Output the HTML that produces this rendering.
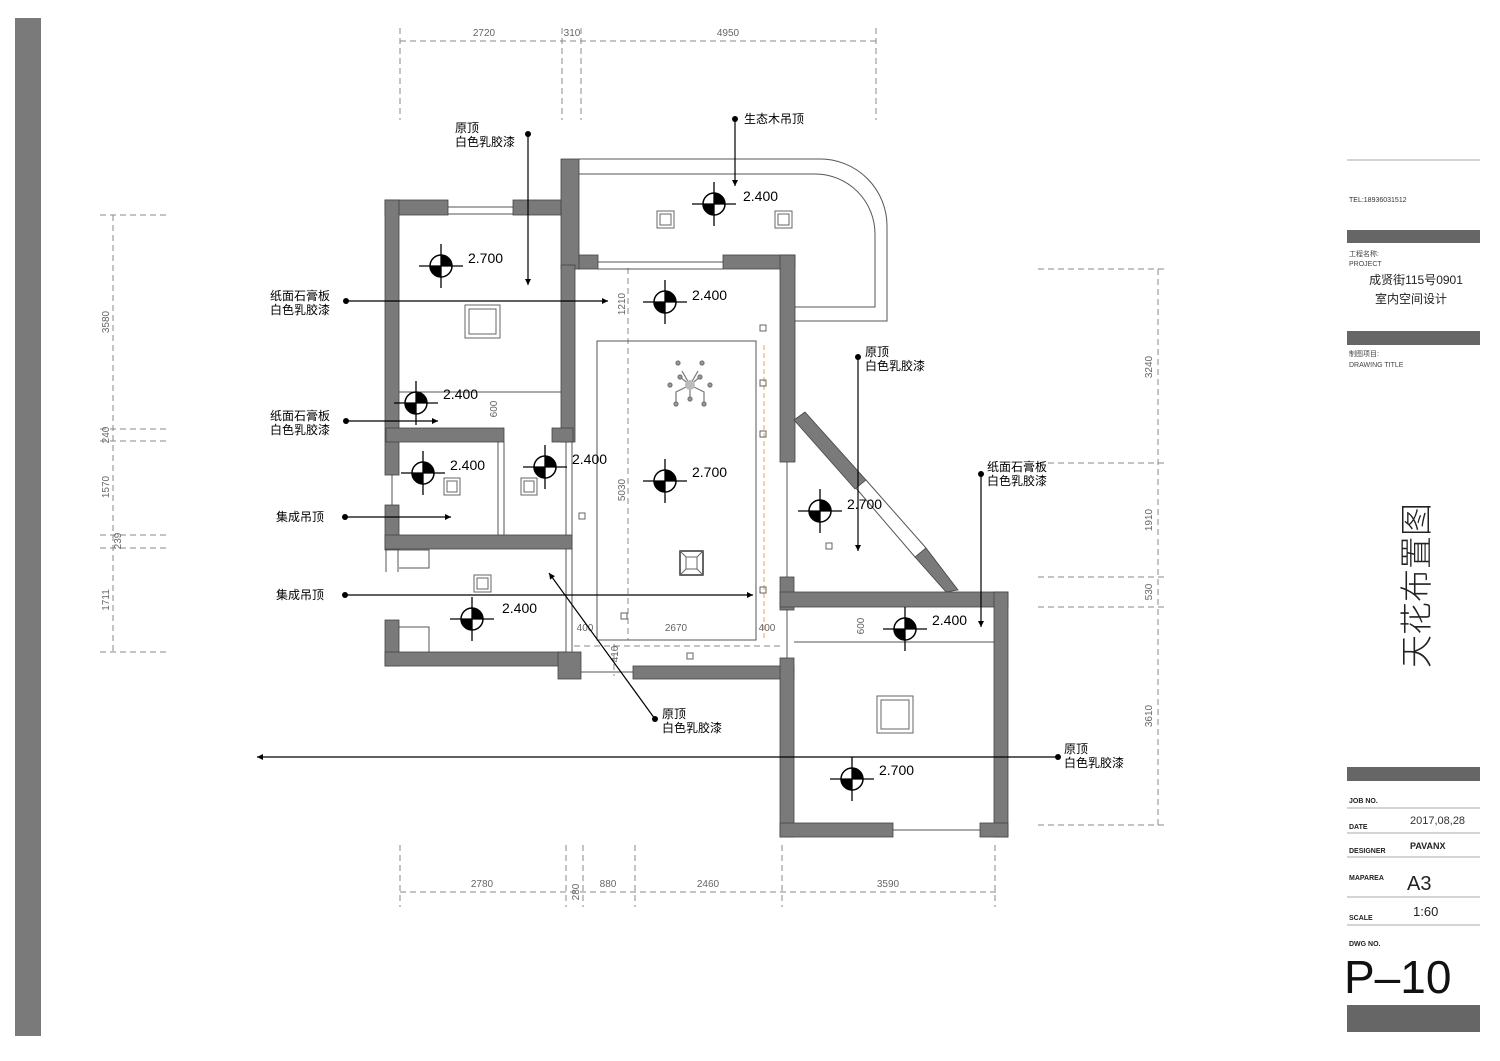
<!DOCTYPE html>
<html><head><meta charset="utf-8"><style>
html,body{margin:0;padding:0;background:#fff}
svg{display:block}
text{font-family:"Liberation Sans","Noto Sans CJK SC",sans-serif}
</style></head><body>
<svg width="1500" height="1061" viewBox="0 0 1500 1061" xmlns="http://www.w3.org/2000/svg">
<defs>
<marker id="ar" viewBox="0 0 10 10" refX="10" refY="5" markerWidth="12" markerHeight="6" orient="auto" markerUnits="userSpaceOnUse"><path d="M0,0 L10,5 L0,10 z" fill="#000"/></marker>
<g id="sym">
<circle r="11" fill="#fff" stroke="#000" stroke-width="1.5"/>
<path d="M0,0 L0,-11 A11,11 0 0 1 11,0 z" fill="#000"/>
<path d="M0,0 L0,11 A11,11 0 0 1 -11,0 z" fill="#000"/>
<line x1="-22" y1="0" x2="22" y2="0" stroke="#000" stroke-width="1.3"/>
<line x1="0" y1="-22" x2="0" y2="22" stroke="#000" stroke-width="1.3"/>
</g>
</defs>
<rect x="15" y="18" width="26" height="1018" fill="#7a7a7a"/>

<g stroke="#888" stroke-width="1" stroke-dasharray="6,4" fill="none">
<line x1="400" y1="41" x2="880" y2="41"/>
<line x1="400" y1="28" x2="400" y2="120"/><line x1="562" y1="28" x2="562" y2="120"/><line x1="581" y1="28" x2="581" y2="120"/><line x1="876" y1="28" x2="876" y2="120"/>
<line x1="400" y1="892" x2="998" y2="892"/>
<line x1="400" y1="845" x2="400" y2="907"/><line x1="566" y1="845" x2="566" y2="907"/><line x1="583" y1="845" x2="583" y2="907"/><line x1="635" y1="845" x2="635" y2="907"/><line x1="782" y1="845" x2="782" y2="907"/><line x1="995" y1="845" x2="995" y2="907"/>
<line x1="113" y1="215" x2="113" y2="652"/>
<line x1="100" y1="215" x2="168" y2="215"/><line x1="100" y1="429" x2="168" y2="429"/><line x1="100" y1="441" x2="168" y2="441"/><line x1="100" y1="535" x2="168" y2="535"/><line x1="100" y1="548" x2="168" y2="548"/><line x1="100" y1="652" x2="168" y2="652"/>
<line x1="1158" y1="269" x2="1158" y2="825"/>
<line x1="1038" y1="269" x2="1168" y2="269"/><line x1="1038" y1="463" x2="1168" y2="463"/><line x1="1038" y1="577" x2="1168" y2="577"/><line x1="1038" y1="607" x2="1168" y2="607"/><line x1="1038" y1="825" x2="1168" y2="825"/>
<line x1="628" y1="268" x2="628" y2="640"/>
<line x1="574" y1="646" x2="782" y2="646"/>
<line x1="614" y1="644" x2="614" y2="676"/>
</g>
<g font-size="10" fill="#666" text-anchor="middle">
<text x="484" y="36">2720</text><text x="572" y="36">310</text><text x="728" y="36">4950</text>
<text x="482" y="887">2780</text><text x="608" y="887">880</text><text x="708" y="887">2460</text><text x="888" y="887">3590</text>
<text transform="translate(579,892) rotate(-90)">280</text>
<text transform="translate(109,322) rotate(-90)">3580</text>
<text transform="translate(109,435) rotate(-90)">240</text>
<text transform="translate(109,487) rotate(-90)">1570</text>
<text transform="translate(121,541) rotate(-90)">239</text>
<text transform="translate(109,600) rotate(-90)">1711</text>
<text transform="translate(1152,367) rotate(-90)">3240</text>
<text transform="translate(1152,520) rotate(-90)">1910</text>
<text transform="translate(1152,592) rotate(-90)">530</text>
<text transform="translate(1152,716) rotate(-90)">3610</text>
<text transform="translate(625,304) rotate(-90)">1210</text>
<text transform="translate(625,490) rotate(-90)">5030</text>
<text transform="translate(497,409) rotate(-90)">600</text>
<text transform="translate(864,626) rotate(-90)">600</text>
<text transform="translate(618,654) rotate(-90)">410</text>
<text x="585" y="631">400</text><text x="676" y="631">2670</text><text x="767" y="631">400</text>
</g>

<g stroke="#555" stroke-width="1" fill="none">
<path d="M579,159 H820 A67,67 0 0 1 887,226 V321 H795"/>
<path d="M579,174 H815 A60,60 0 0 1 875,234 V307 H795"/>
<line x1="448" y1="207" x2="514" y2="207"/><line x1="448" y1="214" x2="514" y2="214"/>
<line x1="598" y1="262" x2="723" y2="262"/><line x1="598" y1="269" x2="723" y2="269"/>
<rect x="597" y="341" width="159" height="299"/>
<line x1="399" y1="392" x2="561" y2="392"/>
<line x1="392" y1="475" x2="392" y2="505"/><line x1="386" y1="550" x2="386" y2="572"/><line x1="398" y1="550" x2="398" y2="572"/>
<line x1="498" y1="442" x2="498" y2="535"/><line x1="504" y1="442" x2="504" y2="535"/>
<line x1="566" y1="442" x2="566" y2="666"/><line x1="572" y1="442" x2="572" y2="666"/>
<line x1="787" y1="462" x2="787" y2="577"/><line x1="787" y1="610" x2="787" y2="658"/>
<line x1="794" y1="642" x2="994" y2="642"/>
<line x1="581" y1="672" x2="633" y2="672"/>
<line x1="893" y1="830" x2="980" y2="830"/>
<path d="M399,550 h30 v18 h-30"/><path d="M399,627 h30 v25"/>
<line x1="855" y1="487" x2="915" y2="557"/>
</g>
<line x1="764" y1="345" x2="764" y2="640" stroke="#f0a040" stroke-width="1" stroke-dasharray="5,3"/>

<g fill="#7a7a7a" stroke="#444" stroke-width="0.8">
<rect x="561" y="159" width="18" height="110"/>
<rect x="579" y="255" width="19" height="14"/>
<rect x="723" y="255" width="72" height="14"/>
<rect x="780" y="255" width="15" height="207"/>
<rect x="385" y="200" width="63" height="15"/>
<rect x="513" y="200" width="48" height="15"/>
<rect x="385" y="200" width="14" height="275"/>
<rect x="561" y="265" width="14" height="177"/>
<rect x="386" y="428" width="118" height="14"/>
<rect x="552" y="428" width="21" height="14"/>
<rect x="385" y="505" width="14" height="45"/>
<rect x="385" y="535" width="187" height="14"/>
<rect x="385" y="620" width="14" height="46"/>
<rect x="385" y="652" width="181" height="14"/>
<rect x="558" y="652" width="23" height="27"/>
<rect x="633" y="666" width="161" height="13"/>
<rect x="780" y="577" width="14" height="33"/>
<rect x="780" y="592" width="228" height="15"/>
<rect x="780" y="658" width="14" height="179"/>
<rect x="994" y="592" width="14" height="245"/>
<rect x="780" y="823" width="113" height="14"/>
<rect x="980" y="823" width="28" height="14"/>
<polygon points="794,420 805,412 866,480 855,489"/>
<polygon points="915,557 926,548 958,590 946,592"/>
</g>
<g stroke="#555" stroke-width="1"><line x1="866" y1="480" x2="926" y2="548"/></g>

<g fill="none" stroke="#666" stroke-width="1">
<rect x="657" y="211" width="17" height="17"/><rect x="660" y="214" width="11" height="11"/>
<rect x="775" y="211" width="17" height="17"/><rect x="778" y="214" width="11" height="11"/>
<rect x="465" y="305" width="35" height="33"/><rect x="469" y="309" width="27" height="25"/>
<rect x="444" y="478" width="16" height="17"/><rect x="447" y="481" width="10" height="11"/>
<rect x="521" y="478" width="16" height="17"/><rect x="524" y="481" width="10" height="11"/>
<rect x="474" y="575" width="17" height="17"/><rect x="477" y="578" width="11" height="11"/>
<rect x="877" y="696" width="36" height="37"/><rect x="881" y="700" width="28" height="29"/>
<rect x="680" y="551" width="23" height="24" stroke="#333" stroke-width="1.5"/><rect x="686" y="557" width="11" height="12"/>
<path d="M680,551 L686,557 M703,551 L697,557 M680,575 L686,569 M703,575 L697,569"/>
<rect x="760" y="325" width="6" height="6"/><rect x="760" y="380" width="6" height="6"/><rect x="760" y="431" width="6" height="6"/><rect x="760" y="587" width="6" height="6"/>
<rect x="579" y="513" width="6" height="6"/><rect x="621" y="613" width="6" height="6"/><rect x="687" y="653" width="6" height="6"/><rect x="826" y="543" width="6" height="6"/>
</g>
<g stroke="#777" stroke-width="1.2" fill="#999">
<path d="M690,385 L682,371 M690,385 L698,371 M690,385 L676,392 L676,404 M690,385 L704,392 L704,404 M690,385 L690,397 M690,385 L680,377 M690,385 L700,377" fill="none"/>
<circle cx="690" cy="385" r="5" fill="#bbb" stroke="none"/>
<circle cx="678" cy="363" r="2"/><circle cx="702" cy="363" r="2"/><circle cx="670" cy="385" r="2"/><circle cx="710" cy="385" r="2"/><circle cx="676" cy="404" r="2"/><circle cx="704" cy="404" r="2"/><circle cx="690" cy="399" r="2"/><circle cx="680" cy="377" r="2"/><circle cx="700" cy="377" r="2"/>
</g>

<use href="#sym" x="441" y="266"/><use href="#sym" x="714" y="204"/><use href="#sym" x="665" y="302"/>
<use href="#sym" x="416" y="403"/><use href="#sym" x="423" y="473"/><use href="#sym" x="545" y="467"/>
<use href="#sym" x="665" y="481"/><use href="#sym" x="820" y="511"/><use href="#sym" x="472" y="619"/>
<use href="#sym" x="905" y="629"/><use href="#sym" x="852" y="779"/>
<g font-size="14" fill="#000">
<text x="468" y="263">2.700</text><text x="743" y="201">2.400</text><text x="692" y="300">2.400</text>
<text x="443" y="399">2.400</text><text x="450" y="470">2.400</text><text x="572" y="464">2.400</text>
<text x="692" y="477">2.700</text><text x="847" y="509">2.700</text><text x="502" y="613">2.400</text>
<text x="932" y="625">2.400</text><text x="879" y="775">2.700</text>
</g>

<g stroke="#000" stroke-width="1.2" fill="none" marker-end="url(#ar)">
<line x1="528" y1="134" x2="528" y2="285"/>
<line x1="735" y1="119" x2="735" y2="186"/>
<line x1="346" y1="301" x2="608" y2="301"/>
<line x1="346" y1="421" x2="438" y2="421"/>
<line x1="345" y1="517" x2="451" y2="517"/>
<line x1="345" y1="595" x2="753" y2="595"/>
<line x1="858" y1="357" x2="858" y2="551"/>
<line x1="981" y1="474" x2="981" y2="627"/>
<line x1="655" y1="719" x2="549" y2="573"/>
<line x1="1058" y1="757" x2="257" y2="757"/>
</g>
<g fill="#000">
<circle cx="528" cy="134" r="3"/><circle cx="735" cy="119" r="3"/><circle cx="346" cy="301" r="3"/><circle cx="346" cy="421" r="3"/>
<circle cx="345" cy="517" r="3"/><circle cx="345" cy="595" r="3"/><circle cx="858" cy="357" r="3"/><circle cx="981" cy="474" r="3"/>
<circle cx="655" cy="719" r="3"/><circle cx="1058" cy="757" r="3"/>
</g>
<g font-size="12" fill="#000">
<text x="455" y="132">原顶</text><text x="455" y="146">白色乳胶漆</text>
<text x="744" y="123">生态木吊顶</text>
<text x="330" y="300" text-anchor="end">纸面石膏板</text><text x="330" y="314" text-anchor="end">白色乳胶漆</text>
<text x="330" y="420" text-anchor="end">纸面石膏板</text><text x="330" y="434" text-anchor="end">白色乳胶漆</text>
<text x="324" y="521" text-anchor="end">集成吊顶</text>
<text x="324" y="599" text-anchor="end">集成吊顶</text>
<text x="865" y="356">原顶</text><text x="865" y="370">白色乳胶漆</text>
<text x="987" y="471">纸面石膏板</text><text x="987" y="485">白色乳胶漆</text>
<text x="662" y="718">原顶</text><text x="662" y="732">白色乳胶漆</text>
<text x="1064" y="753">原顶</text><text x="1064" y="767">白色乳胶漆</text>
</g>

<line x1="1347" y1="160" x2="1480" y2="160" stroke="#aaa" stroke-width="1"/>
<text x="1349" y="202" font-size="7" fill="#333">TEL:18936031512</text>
<rect x="1347" y="230" width="133" height="13" fill="#666"/>
<text x="1349" y="256" font-size="7" fill="#444">工程名称:</text>
<text x="1349" y="266" font-size="7" fill="#444">PROJECT</text>
<text x="1416" y="284" font-size="12" text-anchor="middle" fill="#222">成贤街115号0901</text>
<text x="1411" y="303" font-size="12" text-anchor="middle" fill="#222">室内空间设计</text>
<rect x="1347" y="331" width="133" height="14" fill="#666"/>
<text x="1349" y="356" font-size="7" fill="#444">制图项目:</text>
<text x="1349" y="367" font-size="7" fill="#444">DRAWING TITLE</text>
<text transform="translate(1428,668) rotate(-90)" font-size="33" fill="#222" font-weight="300">天花布置图</text>
<rect x="1347" y="767" width="133" height="14" fill="#666"/>
<g font-size="7" fill="#222" font-weight="bold">
<text x="1349" y="803">JOB NO.</text><text x="1349" y="829">DATE</text><text x="1349" y="853">DESIGNER</text>
<text x="1349" y="880">MAPAREA</text><text x="1349" y="920">SCALE</text><text x="1349" y="946">DWG NO.</text>
</g>
<g stroke="#aaa" stroke-width="1">
<line x1="1347" y1="808" x2="1480" y2="808"/><line x1="1347" y1="833" x2="1480" y2="833"/><line x1="1347" y1="857" x2="1480" y2="857"/>
<line x1="1347" y1="897" x2="1480" y2="897"/><line x1="1347" y1="925" x2="1480" y2="925"/>
</g>
<text x="1410" y="824" font-size="11" fill="#333">2017,08,28</text>
<text x="1410" y="849" font-size="9" fill="#222" font-weight="bold">PAVANX</text>
<text x="1407" y="890" font-size="20" fill="#222">A3</text>
<text x="1413" y="916" font-size="13" fill="#222">1:60</text>
<text x="1344" y="993" font-size="46" fill="#111">P–10</text>
<rect x="1347" y="1005" width="133" height="27" fill="#666"/>
</svg>
</body></html>
